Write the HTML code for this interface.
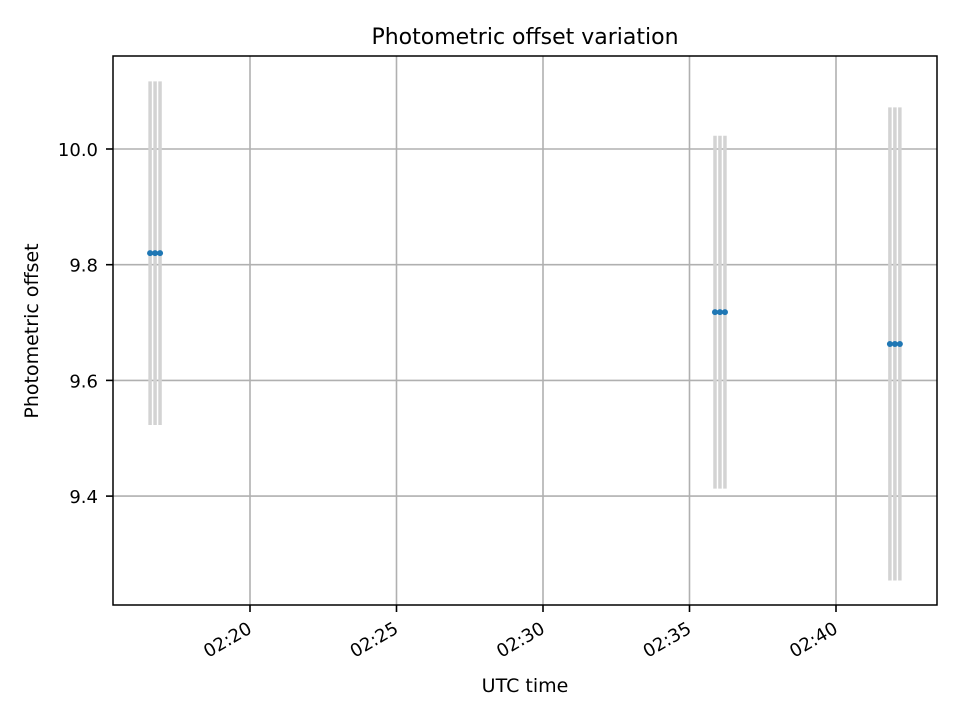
<!DOCTYPE html>
<html><head><meta charset="utf-8"><style>body{margin:0;background:#fff}svg{font-family:"DejaVu Sans","Liberation Sans",sans-serif}</style></head>
<body>
<svg id="chart" width="960" height="720" xmlns="http://www.w3.org/2000/svg">
<rect width="960" height="720" fill="#fff"/>
<text x="525" y="44" text-anchor="middle" font-size="22">Photometric offset variation</text>
<text x="525" y="692" text-anchor="middle" font-size="19">UTC time</text>
<text transform="translate(38,331) rotate(-90)" text-anchor="middle" font-size="19">Photometric offset</text>
<g id="grid"></g><g id="marks"></g><g id="axes"></g>
<rect x="113" y="56" width="824" height="549" fill="none" stroke="#000" stroke-width="1.5"/>
</svg>
<script>
const times = [16.59,16.76,16.93, 35.87,36.04,36.21, 41.84,42.01,42.18]; // minutes after 02:00
const offsets = [9.820,9.820,9.820, 9.718,9.718,9.718, 9.663,9.663,9.663];
const errors = [0.297,0.297,0.297, 0.305,0.305,0.305, 0.409,0.409,0.409];
const xTicks = [20,25,30,35,40];
const xTickLabels = ["02:20","02:25","02:30","02:35","02:40"];
const yTicks = [9.4,9.6,9.8,10.0];
const yTickLabels = ["9.4","9.6","9.8","10.0"];

const NS="http://www.w3.org/2000/svg";
const L=113,R=937,T=56,B=605;
function xs(m){return 250+(m-20)*29.3;}
function ys(v){return 149+(10.0-v)*578.5;}
function mk(tag,attrs,parent){const e=document.createElementNS(NS,tag);for(const k in attrs)e.setAttribute(k,attrs[k]);parent.appendChild(e);return e;}
const grid=document.getElementById('grid'),marks=document.getElementById('marks'),axes=document.getElementById('axes');
xTicks.forEach((t,i)=>{const x=xs(t);
 const g=mk('line',{x1:x,x2:x,y1:T,y2:B,stroke:'#b0b0b0','stroke-width':1.6},grid);
 
 
 const tk=mk('line',{x1:x,x2:x,y1:B,y2:B+7,stroke:'#000','stroke-width':1.6},axes);
 
 
 const tx=mk('text',{x:x+3,y:B+27,'text-anchor':'end','font-size':18,transform:`rotate(-30 ${x+3} ${B+27})`},axes);
 tx.textContent=xTickLabels[i];
 
 
});
yTicks.forEach((t,i)=>{const y=ys(t);
 const g=mk('line',{x1:L,x2:R,y1:y,y2:y,stroke:'#b0b0b0','stroke-width':1.6},grid);
 
 
 const tk=mk('line',{x1:L-7,x2:L,y1:y,y2:y,stroke:'#000','stroke-width':1.6},axes);
 
 
 const tx=mk('text',{x:L-15,y:y+7,'text-anchor':'end','font-size':18},axes);
 tx.textContent=yTickLabels[i];
 
 
});
times.forEach((t,i)=>{const x=xs(t);
 const e=mk('line',{x1:x,x2:x,y1:ys(offsets[i]+errors[i]),y2:ys(offsets[i]-errors[i]),stroke:'#d3d3d3','stroke-width':3.5},marks);
 
 
});
times.forEach((t,i)=>{
 const c=mk('circle',{cx:xs(t),cy:ys(offsets[i]),r:3,fill:'#1f77b4'},marks);
 
 
});
</script>
</body></html>
